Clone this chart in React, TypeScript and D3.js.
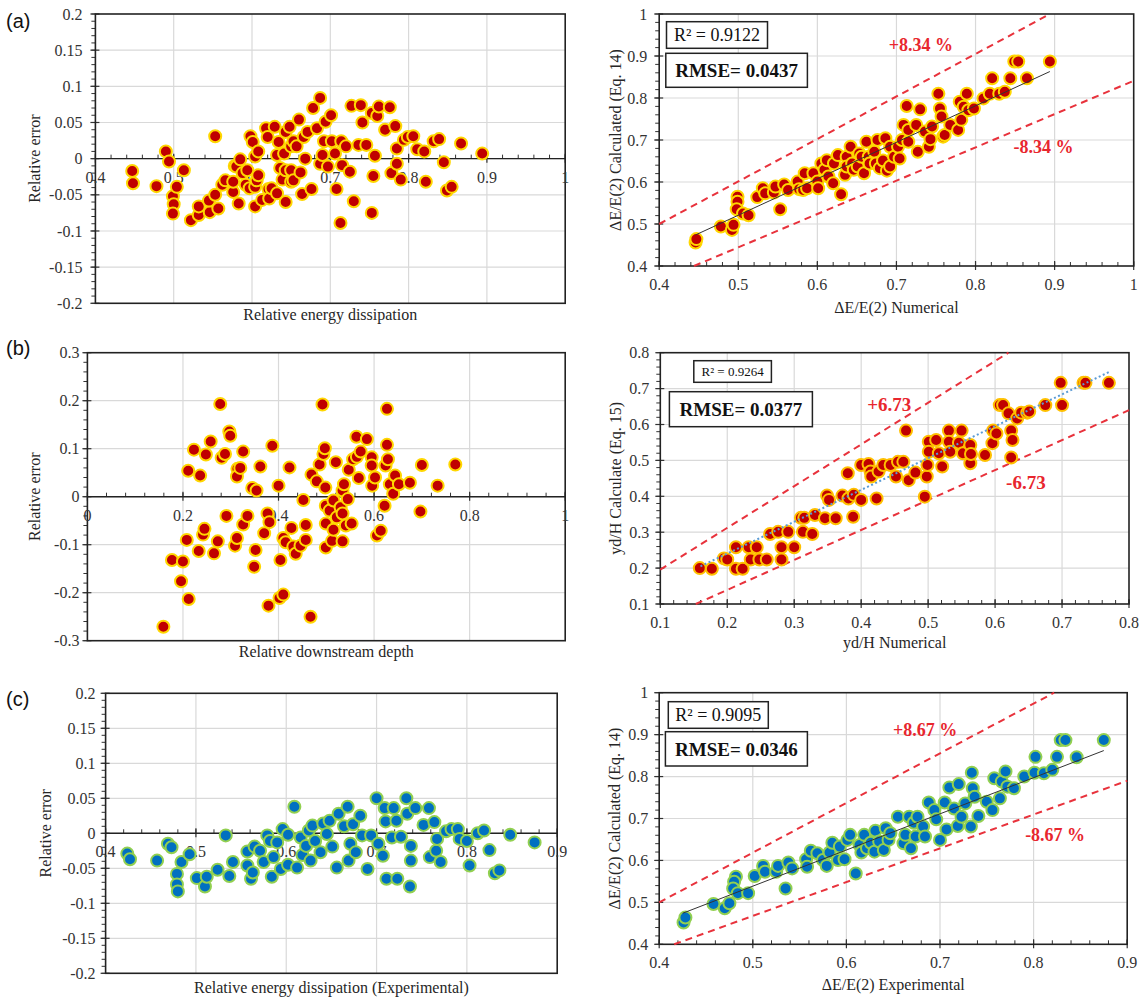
import React, { useEffect, useRef } from "react";
import * as d3 from "d3";

type Pt = [number, number];

// (a) numerical relative energy dissipation: residuals and calculated vs numerical
const residA: Pt[] = [
  [0.447, -0.017], [0.448, -0.034], [0.478, -0.038], [0.49, 0.01], [0.494, -0.004], [0.499, -0.052],
  [0.5, -0.063], [0.499, -0.076], [0.504, -0.039], [0.513, -0.016], [0.522, -0.085], [0.532, -0.078],
  [0.532, -0.066], [0.546, -0.074], [0.545, -0.058], [0.553, 0.031], [0.553, -0.05], [0.557, -0.069],
  [0.562, -0.036], [0.566, -0.03], [0.576, -0.046], [0.576, -0.032], [0.578, -0.01], [0.58, -0.011],
  [0.583, -0.062], [0.585, -0.001], [0.588, -0.02], [0.592, -0.036], [0.594, -0.016], [0.597, -0.041],
  [0.598, 0.031], [0.601, 0.023], [0.604, -0.066], [0.604, -0.039], [0.604, 0.003], [0.606, -0.03],
  [0.608, 0.01], [0.608, -0.023], [0.613, -0.057], [0.618, 0.042], [0.62, 0.03], [0.621, -0.042],
  [0.622, -0.055], [0.625, -0.041], [0.629, 0.044], [0.632, 0.005], [0.632, -0.048], [0.634, 0.023],
  [0.636, -0.013], [0.639, -0.029], [0.641, 0.007], [0.643, -0.06], [0.643, 0.037], [0.643, -0.016],
  [0.648, 0.044], [0.65, -0.016], [0.65, -0.032], [0.65, 0.017], [0.653, 0.024], [0.653, -0.03],
  [0.657, 0.017], [0.66, 0.054], [0.662, -0.019], [0.664, -0.049], [0.666, 0.03], [0.668, 0],
  [0.671, 0.037], [0.676, -0.042], [0.678, 0.07], [0.683, 0.042], [0.687, 0.084], [0.687, -0.007],
  [0.69, 0.005], [0.692, 0.024], [0.694, 0.051], [0.697, -0.011], [0.701, 0.06], [0.702, 0.024],
  [0.706, 0.007], [0.708, -0.042], [0.713, -0.089], [0.714, 0.024], [0.715, -0.009], [0.72, 0.017],
  [0.725, -0.018], [0.727, 0.073], [0.73, -0.059], [0.736, 0.019], [0.739, 0.074], [0.741, 0.05],
  [0.746, 0.019], [0.753, 0.063], [0.753, -0.075], [0.755, -0.024], [0.757, 0.004], [0.76, 0.059],
  [0.762, 0.072], [0.77, 0.04], [0.776, 0.071], [0.778, -0.02], [0.783, 0.045], [0.785, -0.007],
  [0.785, 0.014], [0.79, -0.029], [0.794, 0.026], [0.799, 0.03], [0.806, 0.031], [0.811, 0.013],
  [0.82, 0.01], [0.822, -0.032], [0.832, 0.024], [0.839, 0.027], [0.845, -0.005], [0.849, -0.044],
  [0.855, -0.039], [0.867, 0.021], [0.894, 0.007],
];

const calcA: Pt[] = [
  [0.446, 0.456], [0.447, 0.464], [0.478, 0.494], [0.492, 0.486], [0.494, 0.498], [0.499, 0.565],
  [0.499, 0.553], [0.498, 0.535], [0.506, 0.525], [0.513, 0.521], [0.524, 0.564], [0.531, 0.585],
  [0.534, 0.573], [0.545, 0.575], [0.547, 0.589], [0.553, 0.535], [0.558, 0.594], [0.563, 0.581],
  [0.575, 0.601], [0.577, 0.583], [0.582, 0.581], [0.584, 0.621], [0.587, 0.585], [0.595, 0.621],
  [0.6, 0.601], [0.601, 0.585], [0.605, 0.644], [0.609, 0.629], [0.612, 0.652], [0.614, 0.613],
  [0.62, 0.597], [0.621, 0.644], [0.626, 0.664], [0.63, 0.571], [0.635, 0.617], [0.637, 0.66],
  [0.637, 0.637], [0.642, 0.684], [0.644, 0.644], [0.646, 0.629], [0.651, 0.637], [0.653, 0.668],
  [0.656, 0.66], [0.659, 0.621], [0.662, 0.696], [0.665, 0.66], [0.666, 0.644], [0.672, 0.672],
  [0.674, 0.644], [0.676, 0.7], [0.679, 0.633], [0.683, 0.651], [0.686, 0.704], [0.688, 0.627],
  [0.692, 0.684], [0.692, 0.637], [0.697, 0.66], [0.702, 0.684], [0.704, 0.656], [0.707, 0.7],
  [0.709, 0.736], [0.713, 0.781], [0.715, 0.696], [0.715, 0.724], [0.725, 0.736], [0.727, 0.672],
  [0.73, 0.773], [0.736, 0.72], [0.741, 0.684], [0.743, 0.702], [0.745, 0.732], [0.753, 0.81],
  [0.755, 0.775], [0.757, 0.756], [0.759, 0.708], [0.761, 0.712], [0.768, 0.736], [0.778, 0.724],
  [0.78, 0.791], [0.782, 0.748], [0.785, 0.779], [0.789, 0.81], [0.791, 0.771], [0.798, 0.775],
  [0.81, 0.799], [0.818, 0.81], [0.821, 0.847], [0.83, 0.81], [0.837, 0.815], [0.844, 0.847],
  [0.849, 0.887], [0.854, 0.887], [0.865, 0.847], [0.894, 0.887],
];

// (b) relative downstream depth
const residB: Pt[] = [
  [0.159, -0.271], [0.177, -0.132], [0.2, -0.135], [0.196, -0.176], [0.212, -0.213], [0.208, -0.09],
  [0.211, 0.054], [0.223, 0.098], [0.233, -0.113], [0.236, 0.044], [0.242, -0.079], [0.245, -0.067],
  [0.248, 0.088], [0.258, 0.115], [0.265, -0.118], [0.273, -0.093], [0.278, 0.193], [0.281, 0.081],
  [0.288, 0.089], [0.291, -0.04], [0.297, 0.136], [0.299, 0.127], [0.309, -0.102], [0.313, -0.086],
  [0.314, 0.058], [0.313, 0.042], [0.32, 0.06], [0.326, -0.058], [0.326, 0.094], [0.335, -0.04],
  [0.345, 0.018], [0.352, -0.111], [0.349, -0.146], [0.354, 0.013], [0.362, 0.063], [0.37, -0.076],
  [0.377, -0.035], [0.381, -0.053], [0.379, -0.227], [0.387, 0.106], [0.4, 0.023], [0.404, -0.132],
  [0.402, -0.211], [0.41, -0.204], [0.41, -0.086], [0.415, -0.095], [0.423, 0.061], [0.427, -0.065],
  [0.431, -0.104], [0.436, -0.119], [0.446, -0.102], [0.452, -0.007], [0.457, -0.059], [0.457, -0.09],
  [0.467, -0.25], [0.469, 0.046], [0.48, 0.032], [0.486, 0.067], [0.492, 0.192], [0.494, 0.089],
  [0.497, 0.101], [0.498, 0.019], [0.499, -0.056], [0.499, -0.019], [0.499, -0.106], [0.507, -0.029],
  [0.512, -0.092], [0.515, -0.008], [0.515, -0.069], [0.52, 0.072], [0.522, -0.043], [0.53, -0.022],
  [0.534, -0.093], [0.534, -0.035], [0.534, 0.013], [0.537, 0.026], [0.541, -0.06], [0.545, -0.005],
  [0.547, 0.056], [0.553, -0.056], [0.556, 0.078], [0.563, 0.125], [0.564, 0.083], [0.568, 0.039],
  [0.572, 0.094], [0.585, 0.12], [0.595, 0.082], [0.595, 0.065], [0.596, 0.023], [0.602, 0.04],
  [0.606, -0.081], [0.614, -0.071], [0.622, -0.019], [0.624, 0.065], [0.627, 0.183], [0.627, 0.108],
  [0.629, 0.078], [0.633, 0.026], [0.64, 0.006], [0.644, 0.044], [0.652, 0.026], [0.675, 0.029],
  [0.697, -0.031], [0.7, 0.066], [0.733, 0.023], [0.77, 0.067],
];

const calcB: Pt[] = [
  [0.159, 0.2], [0.177, 0.198], [0.195, 0.227], [0.2, 0.224], [0.213, 0.258], [0.213, 0.198],
  [0.223, 0.198], [0.232, 0.258], [0.235, 0.224], [0.244, 0.258], [0.248, 0.224], [0.259, 0.224],
  [0.264, 0.295], [0.276, 0.301], [0.281, 0.258], [0.281, 0.224], [0.291, 0.301], [0.3, 0.258],
  [0.31, 0.34], [0.313, 0.301], [0.315, 0.34], [0.327, 0.295], [0.331, 0.348], [0.346, 0.339],
  [0.349, 0.402], [0.352, 0.39], [0.362, 0.339], [0.372, 0.402], [0.38, 0.464], [0.381, 0.394],
  [0.389, 0.404], [0.388, 0.343], [0.4, 0.39], [0.4, 0.487], [0.411, 0.49], [0.414, 0.469],
  [0.415, 0.455], [0.423, 0.394], [0.426, 0.469], [0.433, 0.487], [0.444, 0.487], [0.452, 0.455],
  [0.455, 0.496], [0.463, 0.496], [0.467, 0.583], [0.471, 0.445], [0.481, 0.466], [0.495, 0.399],
  [0.498, 0.455], [0.499, 0.487], [0.501, 0.552], [0.501, 0.524], [0.512, 0.557], [0.516, 0.52],
  [0.521, 0.483], [0.531, 0.583], [0.531, 0.552], [0.533, 0.524], [0.55, 0.583], [0.546, 0.549],
  [0.552, 0.52], [0.563, 0.543], [0.563, 0.492], [0.564, 0.518], [0.585, 0.515], [0.596, 0.548],
  [0.597, 0.583], [0.602, 0.575], [0.607, 0.654], [0.612, 0.654], [0.62, 0.631], [0.624, 0.583],
  [0.626, 0.557], [0.624, 0.508], [0.633, 0.617], [0.639, 0.633], [0.648, 0.633], [0.651, 0.636],
  [0.675, 0.654], [0.698, 0.716], [0.7, 0.654], [0.732, 0.716], [0.735, 0.716], [0.77, 0.716],
];

// (c) experimental relative energy dissipation
const residC: Pt[] = [
  [0.424, -0.029], [0.427, -0.037], [0.457, -0.039], [0.469, -0.015], [0.473, -0.02], [0.479, -0.058],
  [0.479, -0.073], [0.48, -0.083], [0.484, -0.041], [0.493, -0.03], [0.501, -0.064], [0.51, -0.076],
  [0.512, -0.062], [0.524, -0.052], [0.533, -0.003], [0.537, -0.061], [0.541, -0.041], [0.557, -0.026],
  [0.557, -0.046], [0.561, -0.065], [0.563, -0.056], [0.565, -0.019], [0.571, -0.025], [0.575, -0.041],
  [0.579, -0.003], [0.582, -0.011], [0.584, -0.062], [0.586, -0.034], [0.59, -0.013], [0.594, -0.051],
  [0.596, 0.006], [0.602, -0.002], [0.602, -0.045], [0.609, 0.038], [0.612, -0.049], [0.616, -0.006],
  [0.618, -0.031], [0.622, -0.018], [0.625, 0.004], [0.627, -0.039], [0.629, 0.011], [0.632, -0.011],
  [0.638, -0.027], [0.641, 0.014], [0.645, -0.001], [0.648, 0.018], [0.651, -0.019], [0.656, -0.049],
  [0.658, 0.028], [0.664, 0.01], [0.668, 0.038], [0.669, -0.039], [0.671, -0.015], [0.674, 0.013],
  [0.677, -0.027], [0.682, 0.025], [0.684, -0.003], [0.69, -0.051], [0.694, -0.003], [0.7, 0.05],
  [0.702, -0.015], [0.707, -0.032], [0.709, 0.036], [0.71, 0.017], [0.711, -0.065], [0.717, -0.006],
  [0.719, 0.036], [0.722, 0.018], [0.723, -0.065], [0.727, -0.005], [0.733, 0.05], [0.734, 0.028],
  [0.737, -0.076], [0.738, -0.018], [0.738, -0.039], [0.743, 0.036], [0.752, 0.012], [0.758, 0.036],
  [0.759, -0.034], [0.764, 0.016], [0.766, -0.025], [0.767, -0.008], [0.771, -0.041], [0.777, 0.003],
  [0.783, 0.006], [0.79, 0.006], [0.792, -0.008], [0.8, -0.011], [0.803, -0.046], [0.812, 0],
  [0.819, 0.004], [0.825, -0.024], [0.831, -0.057], [0.836, -0.053], [0.848, -0.002], [0.875, -0.013],
];

const calcC: Pt[] = [
  [0.426, 0.452], [0.428, 0.464], [0.458, 0.496], [0.47, 0.486], [0.475, 0.498], [0.482, 0.561],
  [0.48, 0.549], [0.479, 0.533], [0.484, 0.522], [0.495, 0.522], [0.502, 0.563], [0.511, 0.587],
  [0.513, 0.573], [0.525, 0.573], [0.527, 0.587], [0.535, 0.533], [0.538, 0.595], [0.542, 0.581],
  [0.557, 0.603], [0.558, 0.585], [0.562, 0.623], [0.569, 0.617], [0.575, 0.601], [0.579, 0.587],
  [0.582, 0.619], [0.585, 0.642], [0.591, 0.601], [0.593, 0.633], [0.598, 0.603], [0.601, 0.649],
  [0.604, 0.661], [0.61, 0.569], [0.614, 0.637], [0.616, 0.619], [0.619, 0.661], [0.622, 0.629],
  [0.626, 0.642], [0.63, 0.621], [0.631, 0.671], [0.635, 0.645], [0.64, 0.625], [0.642, 0.677],
  [0.645, 0.649], [0.647, 0.665], [0.655, 0.704], [0.661, 0.641], [0.663, 0.661], [0.667, 0.704],
  [0.669, 0.629], [0.672, 0.69], [0.674, 0.657], [0.676, 0.704], [0.682, 0.681], [0.684, 0.657],
  [0.688, 0.738], [0.694, 0.72], [0.696, 0.698], [0.7, 0.649], [0.705, 0.738], [0.707, 0.674],
  [0.71, 0.774], [0.715, 0.724], [0.72, 0.782], [0.719, 0.682], [0.723, 0.704], [0.727, 0.736],
  [0.733, 0.681], [0.734, 0.809], [0.735, 0.772], [0.737, 0.752], [0.741, 0.706], [0.75, 0.74],
  [0.756, 0.72], [0.758, 0.796], [0.764, 0.748], [0.766, 0.788], [0.77, 0.812], [0.772, 0.776],
  [0.779, 0.772], [0.79, 0.8], [0.801, 0.809], [0.802, 0.847], [0.811, 0.808], [0.82, 0.816],
  [0.825, 0.847], [0.829, 0.887], [0.834, 0.887], [0.846, 0.846], [0.875, 0.887],
];

// tick values
const xTicksA = [0.4, 0.5, 0.6, 0.7, 0.8, 0.9, 1];
const yTicksResid = [-0.2, -0.15, -0.1, -0.05, 0, 0.05, 0.1, 0.15, 0.2];
const yTicksCalc = [0.4, 0.5, 0.6, 0.7, 0.8, 0.9, 1];
const xTicksResidB = [0, 0.2, 0.4, 0.6, 0.8, 1];
const yTicksResidB = [-0.3, -0.2, -0.1, 0, 0.1, 0.2, 0.3];
const ticksCalcB = [0.1, 0.2, 0.3, 0.4, 0.5, 0.6, 0.7, 0.8];
const xTicksC = [0.4, 0.5, 0.6, 0.7, 0.8, 0.9];

// error bands and trend lines (end points)
const upperA: Pt[] = [[0.4, 0.5], [0.894, 1]];
const lowerA: Pt[] = [[0.444, 0.4], [1, 0.841]];
const fitA: Pt[] = [[0.446, 0.474], [0.894, 0.863]];
const upperB: Pt[] = [[0.1, 0.196], [0.62, 0.8]];
const lowerB: Pt[] = [[0.153, 0.1], [0.8, 0.64]];
const fitB: Pt[] = [[0.16, 0.205], [0.77, 0.746]];
const upperC: Pt[] = [[0.4, 0.5], [0.822, 1]];
const lowerC: Pt[] = [[0.416, 0.4], [0.9, 0.79]];
const fitC: Pt[] = [[0.425, 0.474], [0.875, 0.862]];

const SERIF = "'Liberation Serif', 'Times New Roman', serif";
const RED = "#c00000";
const YELLOW = "#ffd700";
const BLUE = "#0070c0";
const GREEN = "#92d050";

interface Note { text: string; at: Pt }
interface Box { text: string; rect: [number, number, number, number]; size: number; bold?: boolean }

interface Panel {
  frame: [number, number, number, number]; // left, right, top, bottom
  xTicks: number[];
  yTicks: number[];
  xMinor: number;
  yMinor: number;
  data: Pt[];
  fill: string;
  edge: string;
  residual: boolean;
  xTitle: string;
  yTitle: string;
  xTitleY: number;
  yTitleX: number;
  labelGap: number;
  tag?: [string, number];
  upper?: Pt[];
  lower?: Pt[];
  fit?: Pt[];
  fitDotted?: boolean;
  boxes?: Box[];
  notes?: Note[];
  noteSize?: number;
}

const panels: Panel[] = [
  {
    frame: [95.4, 565.2, 14, 303.3], xTicks: xTicksA, yTicks: yTicksResid, xMinor: 0.02, yMinor: 0.01,
    data: residA, fill: RED, edge: YELLOW, residual: true,
    xTitle: "Relative energy dissipation", yTitle: "Relative error", xTitleY: 320, yTitleX: 34,
    labelGap: 13, tag: ["(a)", 28],
  },
  {
    frame: [659.2, 1133.7, 14, 266], xTicks: xTicksA, yTicks: yTicksCalc, xMinor: 0.02, yMinor: 0.02,
    data: calcA, fill: RED, edge: YELLOW, residual: false,
    xTitle: "ΔE/E(2) Numerical", yTitle: "ΔE/E(2) Calculated (Eq. 14)", xTitleY: 313, yTitleX: 615,
    labelGap: 12, upper: upperA, lower: lowerA, fit: fitA,
    boxes: [
      { text: "R² = 0.9122", rect: [7.3, 7.7, 101, 26.6], size: 18 },
      { text: "RMSE= 0.0437", rect: [6.6, 39.3, 141.6, 34], size: 19, bold: true },
    ],
    notes: [{ text: "+8.34 %", at: [0.731, 0.926] }, { text: "-8.34 %", at: [0.886, 0.684] }],
    noteSize: 18,
  },
  {
    frame: [87.4, 565.2, 352.7, 640.7], xTicks: xTicksResidB, yTicks: yTicksResidB, xMinor: 0.04, yMinor: 0.02,
    data: residB, fill: RED, edge: YELLOW, residual: true,
    xTitle: "Relative downstream depth", yTitle: "Relative error", xTitleY: 657, yTitleX: 34,
    labelGap: 8, tag: ["(b)", 354.5],
  },
  {
    frame: [660.3, 1129, 352.7, 604], xTicks: ticksCalcB, yTicks: ticksCalcB, xMinor: 0.02, yMinor: 0.02,
    data: calcB, fill: RED, edge: "#ffc000", residual: false,
    xTitle: "yd/H Numerical", yTitle: "yd/H  Calculate (Eq. 15)", xTitleY: 648, yTitleX: 615,
    labelGap: 11, upper: upperB, lower: lowerB, fit: fitB, fitDotted: true,
    boxes: [
      { text: "R² = 0.9264", rect: [33.5, 8, 77.6, 21.6], size: 13 },
      { text: "RMSE= 0.0377", rect: [9.1, 39, 143, 35], size: 19, bold: true },
    ],
    notes: [{ text: "+6.73", at: [0.442, 0.657] }, { text: "-6.73", at: [0.646, 0.44] }],
    noteSize: 19,
  },
  {
    frame: [105.6, 557.2, 693.3, 973.3], xTicks: xTicksC, yTicks: yTicksResid, xMinor: 0.02, yMinor: 0.01,
    data: residC, fill: BLUE, edge: GREEN, residual: true,
    xTitle: "Relative energy dissipation (Experimental)", yTitle: "Relative error", xTitleY: 993, yTitleX: 45,
    labelGap: 10, tag: ["(c)", 706],
  },
  {
    frame: [659.2, 1127.2, 692.7, 944.3], xTicks: xTicksC, yTicks: yTicksCalc, xMinor: 0.02, yMinor: 0.02,
    data: calcC, fill: BLUE, edge: GREEN, residual: false,
    xTitle: "ΔE/E(2) Experimental", yTitle: "ΔE/E(2) Calculated (Eq. 14)", xTitleY: 990, yTitleX: 614,
    labelGap: 11, upper: upperC, lower: lowerC, fit: fitC,
    boxes: [
      { text: "R² = 0.9095", rect: [9.1, 9, 100, 26.6], size: 18 },
      { text: "RMSE= 0.0346", rect: [6.2, 39, 142, 34.3], size: 19, bold: true },
    ],
    notes: [{ text: "+8.67 %", at: [0.684, 0.911] }, { text: "-8.67 %", at: [0.823, 0.661] }],
    noteSize: 18,
  },
];

const fmt = (v: number) => String(+v.toFixed(2));

function drawPanel(root: d3.Selection<SVGSVGElement, unknown, null, undefined>, p: Panel) {
  const [left, right, top, bottom] = p.frame;
  const xd = [p.xTicks[0], p.xTicks[p.xTicks.length - 1]];
  const yd = [p.yTicks[0], p.yTicks[p.yTicks.length - 1]];
  const x = d3.scaleLinear().domain(xd).range([left, right]);
  const y = d3.scaleLinear().domain(yd).range([bottom, top]);
  const g = root.append("g");

  // gridlines
  g.append("g").selectAll("line").data(p.xTicks.slice(1, -1)).join("line")
    .attr("x1", (d) => x(d)).attr("x2", (d) => x(d)).attr("y1", top).attr("y2", bottom)
    .attr("stroke", "#d9d9d9").attr("stroke-width", 1.2);
  g.append("g").selectAll("line").data(p.yTicks.slice(1, -1)).join("line")
    .attr("x1", left).attr("x2", right).attr("y1", (d) => y(d)).attr("y2", (d) => y(d))
    .attr("stroke", "#d9d9d9").attr("stroke-width", 1.2);

  const axisY = p.residual ? y(0) : bottom;
  const xMinor = d3.range(xd[0], xd[1] + 1e-9, p.xMinor);
  const yMinor = d3.range(yd[0], yd[1] + 1e-9, p.yMinor);

  // x ticks: minor ones point up, major ones cross the axis
  g.append("g").selectAll("line").data(xMinor).join("line")
    .attr("x1", (d) => x(d)).attr("x2", (d) => x(d))
    .attr("y1", axisY - 4).attr("y2", axisY)
    .attr("stroke", "#333").attr("stroke-width", 1);
  g.append("g").selectAll("line").data(p.xTicks).join("line")
    .attr("x1", (d) => x(d)).attr("x2", (d) => x(d))
    .attr("y1", axisY - 5).attr("y2", axisY + 4)
    .attr("stroke", "#333").attr("stroke-width", 1.2);
  // y ticks: minor ones point left, major ones cross the axis
  g.append("g").selectAll("line").data(yMinor).join("line")
    .attr("x1", left - 4).attr("x2", left).attr("y1", (d) => y(d)).attr("y2", (d) => y(d))
    .attr("stroke", "#333").attr("stroke-width", 1);
  g.append("g").selectAll("line").data(p.yTicks).join("line")
    .attr("x1", left - 5).attr("x2", left + 4).attr("y1", (d) => y(d)).attr("y2", (d) => y(d))
    .attr("stroke", "#333").attr("stroke-width", 1.2);

  if (p.residual) {
    g.append("line").attr("x1", left).attr("x2", right).attr("y1", axisY).attr("y2", axisY)
      .attr("stroke", "#222").attr("stroke-width", 1.4);
  }
  g.append("rect").attr("x", left).attr("y", top).attr("width", right - left).attr("height", bottom - top)
    .attr("fill", "none").attr("stroke", "#222").attr("stroke-width", 1.6);

  // tick labels
  g.append("g").selectAll("text").data(p.xTicks).join("text")
    .attr("x", (d) => x(d)).attr("y", axisY + 24).attr("text-anchor", "middle")
    .attr("font-family", SERIF).attr("font-size", 16).attr("fill", "#333").text(fmt);
  g.append("g").selectAll("text").data(p.yTicks).join("text")
    .attr("x", left - p.labelGap).attr("y", (d) => y(d)).attr("dy", "0.35em").attr("text-anchor", "end")
    .attr("font-family", SERIF).attr("font-size", 16).attr("fill", "#333").text(fmt);

  const line = d3.line<Pt>().x((d) => x(d[0])).y((d) => y(d[1]));
  [p.upper, p.lower].forEach((band) => {
    if (!band) return;
    g.append("path").attr("d", line(band)).attr("fill", "none")
      .attr("stroke", "#e8323c").attr("stroke-width", 2).attr("stroke-dasharray", "7,5");
  });

  // points
  g.append("g").selectAll("circle").data(p.data).join("circle")
    .attr("cx", (d) => x(d[0])).attr("cy", (d) => y(d[1])).attr("r", 6)
    .attr("fill", p.fill).attr("stroke", p.edge).attr("stroke-width", 2);

  if (p.fit) {
    g.append("path").attr("d", line(p.fit)).attr("fill", "none")
      .attr("stroke", p.fitDotted ? "#5b9bd5" : "#333")
      .attr("stroke-width", p.fitDotted ? 2 : 1)
      .attr("stroke-dasharray", p.fitDotted ? "2,2.5" : null);
  }

  (p.boxes || []).forEach((b) => {
    const [dx, dy, w, h] = b.rect;
    g.append("rect").attr("x", left + dx).attr("y", top + dy).attr("width", w).attr("height", h)
      .attr("fill", "#fff").attr("stroke", "#222").attr("stroke-width", 1.5);
    g.append("text").attr("x", left + dx + w / 2).attr("y", top + dy + h / 2).attr("dy", "0.35em")
      .attr("text-anchor", "middle").attr("font-family", SERIF).attr("font-size", b.size)
      .attr("font-weight", b.bold ? "bold" : "normal").attr("fill", "#111").text(b.text);
  });

  (p.notes || []).forEach((n) => {
    g.append("text").attr("x", x(n.at[0])).attr("y", y(n.at[1])).attr("dy", "0.35em")
      .attr("text-anchor", "middle").attr("font-family", SERIF).attr("font-size", p.noteSize || 18)
      .attr("font-weight", "bold").attr("fill", "#e8262e").text(n.text);
  });

  // titles
  g.append("text").attr("x", (left + right) / 2).attr("y", p.xTitleY).attr("text-anchor", "middle")
    .attr("font-family", SERIF).attr("font-size", 16).attr("fill", "#262626").text(p.xTitle);
  g.append("text")
    .attr("transform", `translate(${p.yTitleX},${(top + bottom) / 2}) rotate(-90)`)
    .attr("dy", "0.35em").attr("text-anchor", "middle")
    .attr("font-family", SERIF).attr("font-size", 16).attr("fill", "#262626").text(p.yTitle);

  if (p.tag) {
    g.append("text").attr("x", 6).attr("y", p.tag[1])
      .attr("font-family", "'Liberation Sans', Arial, sans-serif").attr("font-size", 20)
      .attr("fill", "#111").text(p.tag[0]);
  }
}

export default function App() {
  const svgRef = useRef<SVGSVGElement | null>(null);

  useEffect(() => {
    const svg = d3.select(svgRef.current as SVGSVGElement);
    svg.selectAll("*").remove();
    svg.append("rect").attr("width", 1140).attr("height", 999).attr("fill", "#fff");
    panels.forEach((p) => drawPanel(svg, p));
  }, []);

  return (
    <svg
      ref={svgRef}
      width={1140}
      height={999}
      style={{ position: "absolute", left: 0, top: 0, display: "block" }}
    />
  );
}
